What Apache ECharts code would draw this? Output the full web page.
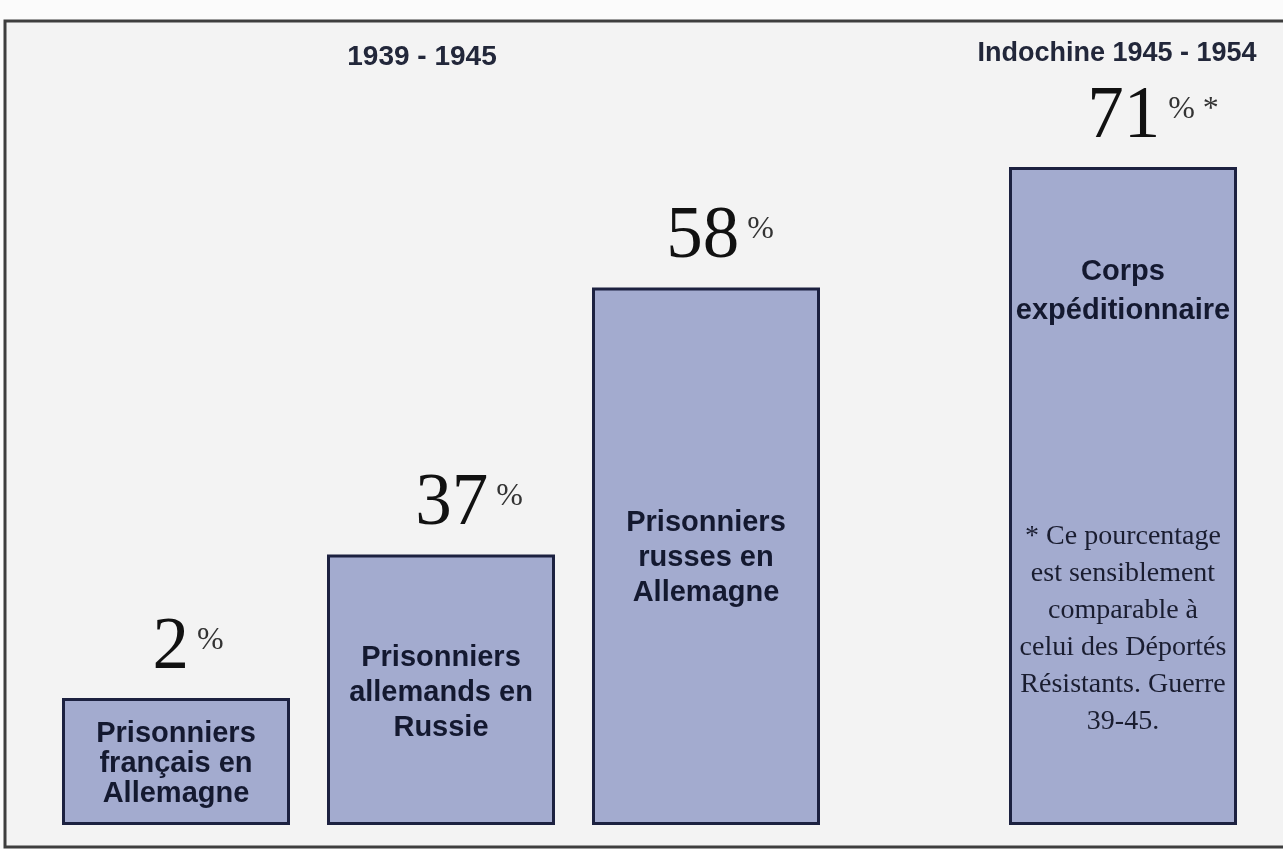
<!DOCTYPE html>
<html>
<head>
<meta charset="utf-8">
<script src="https://cdn.jsdelivr.net/npm/echarts@6/dist/echarts.min.js"></script>
<style>
html,body{margin:0;padding:0;background:#fbfbfb;}
#chart{width:1283px;height:849px;}
</style>
</head>
<body>
<div id="chart"></div>
<script>
// ---- data ----
const categories = [
  'Prisonniers\nfrançais en\nAllemagne',
  'Prisonniers\nallemands en\nRussie',
  'Prisonniers\nrusses en\nAllemagne',
  'Corps\nexpéditionnaire'
];
const percentages = [2, 37, 58, 71];
// bar heights as drawn in the picture (the two first boxes are not to scale)
const drawnHeights = [13.7, 29.2, 58, 71];
const periods = ['1939 - 1945', 'Indochine 1945 - 1954'];
const periodOfBar = [0, 0, 0, 1];
const footnoteMark = [false, false, false, true];
const footnoteLines = [
  '* Ce pourcentage',
  'est sensiblement',
  'comparable à',
  'celui des Déportés',
  'Résistants. Guerre',
  '39-45.'
];

// ---- styles / layout ----
const barFill = '#a3abcf';
const barEdge = '#1c2140';
const ink = '#141930';
const insideLayout = [
  { position: 'inside', lineHeight: 30, offset: [0, 2] },
  { position: 'inside', offset: [0, 3] },
  { position: 'inside', offset: [0, 2] },
  { position: 'insideTop', distance: 85, lineHeight: 39 }
];
const pctOffsets = [12, 28, 14, 30];

const idxByPeriod = periods.map((_, g) => periodOfBar.map((p, i) => p === g ? i : -1).filter(i => i >= 0));

function mainSeries(g) {
  return {
    type: 'bar', xAxisIndex: g, yAxisIndex: g, barWidth: 228, barGap: '-100%',
    silent: true,
    itemStyle: { color: barFill, borderColor: barEdge, borderWidth: 3 },
    label: {
      show: true, formatter: p => p.name, color: ink,
      fontFamily: 'Liberation Sans', fontWeight: 'bold', fontSize: 29, lineHeight: 35, align: 'center'
    },
    data: idxByPeriod[g].map(i => ({ value: drawnHeights[i], name: categories[i], label: insideLayout[i] }))
  };
}
function pctSeries(g) {
  return {
    type: 'bar', xAxisIndex: g, yAxisIndex: g, barWidth: 228, barGap: '-100%',
    silent: true,
    itemStyle: { color: 'rgba(0,0,0,0)' },
    label: {
      show: true, position: 'top', distance: 13,
      rich: {
        n: { fontFamily: 'Liberation Serif', fontSize: 73, color: '#111', lineHeight: 73 },
        p: { fontFamily: 'Liberation Serif', fontSize: 32, color: '#333', padding: [0, 0, 16, 8] }
      }
    },
    data: idxByPeriod[g].map(i => ({
      value: drawnHeights[i],
      label: {
        offset: [pctOffsets[i], 0],
        formatter: '{n|' + percentages[i] + '}{p|%' + (footnoteMark[i] ? ' *' : '') + '}'
      }
    }))
  };
}
function noteSeries(g) {
  return {
    type: 'bar', xAxisIndex: g, yAxisIndex: g, barWidth: 228, barGap: '-100%',
    silent: true,
    itemStyle: { color: 'rgba(0,0,0,0)' },
    label: {
      show: true, position: 'insideTop', distance: 351,
      fontFamily: 'Liberation Serif', fontSize: 28, lineHeight: 37, color: '#1a1d30', align: 'center',
      formatter: footnoteLines.join('\n')
    },
    data: idxByPeriod[g].filter(i => footnoteMark[i]).map(i => ({ value: drawnHeights[i] }))
  };
}

const chart = echarts.init(document.getElementById('chart'), null, { renderer: 'canvas' });
chart.setOption({
  animation: false,
  backgroundColor: '#fbfbfb',
  graphic: [
    {
      type: 'rect', z: -10, silent: true,
      shape: { x: 5, y: 21, width: 1300, height: 826 },
      style: { fill: '#f3f3f3', stroke: '#3e3e3e', lineWidth: 3 }
    },
    {
      type: 'text', x: 422, y: 57, silent: true,
      style: { text: periods[0], textAlign: 'center', textVerticalAlign: 'middle',
        font: 'bold 28px "Liberation Sans"', fill: '#22273a' }
    },
    {
      type: 'text', x: 1117, y: 54, silent: true,
      style: { text: periods[1], textAlign: 'center', textVerticalAlign: 'middle',
        font: 'bold 27px "Liberation Sans"', fill: '#22273a' }
    }
  ],
  grid: [
    { left: 43.5, width: 795, top: 83.6, bottom: 24 },
    { left: 990, width: 266, top: 83.6, bottom: 24 }
  ],
  xAxis: idxByPeriod.map((ids, g) => ({
    type: 'category', gridIndex: g, data: ids.map(i => categories[i]), show: false
  })),
  yAxis: idxByPeriod.map((ids, g) => ({
    type: 'value', gridIndex: g, min: 0, max: 80, show: false, splitLine: { show: false }
  })),
  series: [mainSeries(0), pctSeries(0), mainSeries(1), pctSeries(1), noteSeries(1)]
});
</script>
</body>
</html>
